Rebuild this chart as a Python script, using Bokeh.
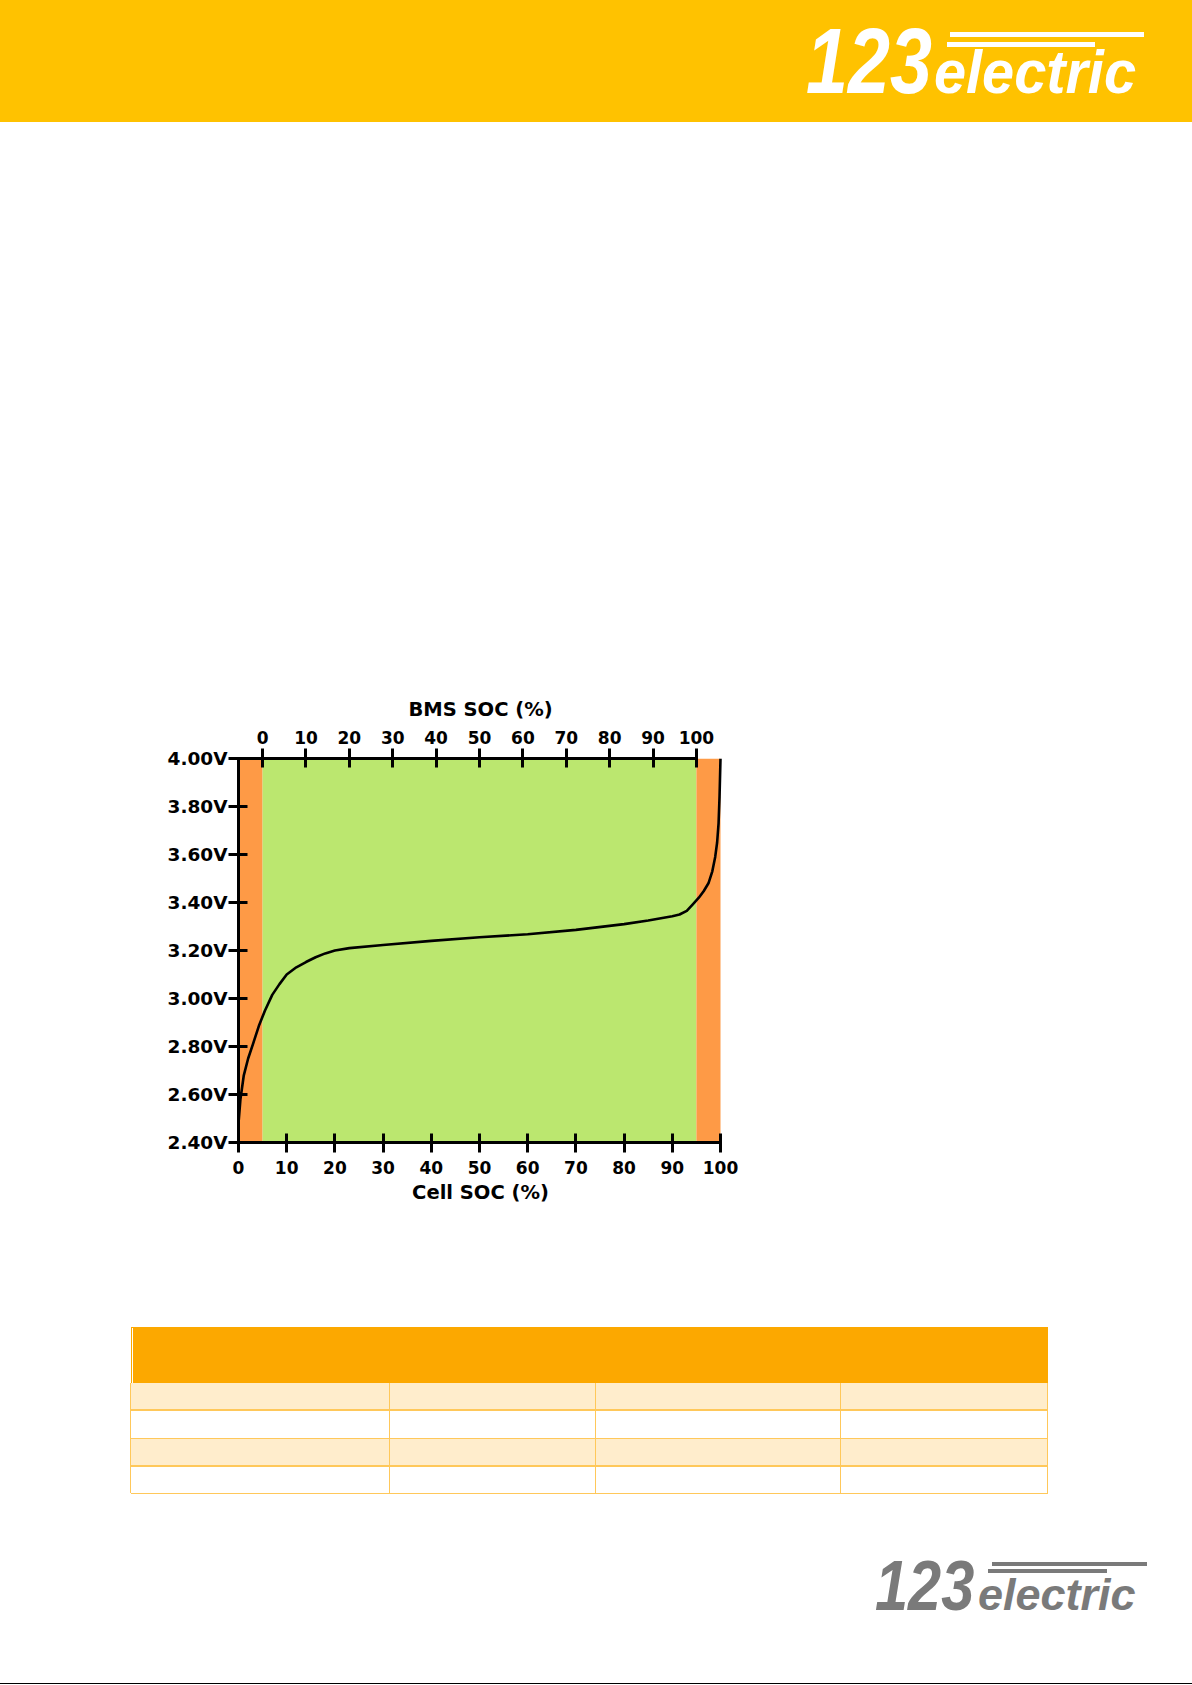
from bokeh.plotting import figure
from bokeh.models import Range1d, LinearAxis, FixedTicker, PrintfTickFormatter, Div
from bokeh.layouts import column
from bokeh.embed import file_html
from bokeh.resources import INLINE

# ---------------- data ----------------
cell_soc = [0, 0.4, 1.1, 2.0, 3.0, 4.3, 5.5, 7.0, 8.5, 10, 12, 14, 16, 18, 20, 23,
            30, 40, 50, 60, 70, 80, 85, 90, 91.5, 93, 94.3, 95.5, 96.5, 97.5,
            98.3, 98.9, 99.3, 99.6, 99.8, 100]
voltage = [2.48, 2.58, 2.68, 2.75, 2.81, 2.89, 2.95, 3.015, 3.06, 3.10, 3.13, 3.152,
           3.172, 3.188, 3.200, 3.210, 3.223, 3.240, 3.255, 3.268, 3.286, 3.310,
           3.325, 3.343, 3.350, 3.365, 3.393, 3.420, 3.447, 3.480, 3.530, 3.590,
           3.650, 3.730, 3.840, 4.000]

zone_start = [0, 5, 95]
zone_end = [5, 95, 100]
zone_color = ["#FE9A46", "#BBE76F", "#FE9A46"]

bms_low_cell = 5      # BMS 0 % equals cell 5 %
bms_high_cell = 95    # BMS 100 % equals cell 95 %

cell_ticks = [0, 10, 20, 30, 40, 50, 60, 70, 80, 90, 100]
bms_ticks = [0, 10, 20, 30, 40, 50, 60, 70, 80, 90, 100]
volt_ticks = [2.4, 2.6, 2.8, 3.0, 3.2, 3.4, 3.6, 3.8, 4.0]

V_MIN, V_MAX = 2.4, 4.0
FONT = "DejaVu Sans"

# ---------------- header (HTML) ----------------
LOGO_FONT = "'Liberation Sans', Arial, sans-serif"


def logo_html(color, bars, t123, tel):
    h = ""
    for (l, t, w, hh) in bars:
        h += (f'<div style="position:absolute;left:{l}px;top:{t}px;width:{w}px;'
              f'height:{hh}px;background:{color};"></div>')
    for (txt, l, t, fs, sx) in (t123, tel):
        h += (f'<div style="position:absolute;left:{l}px;top:{t}px;font-family:{LOGO_FONT};'
              f'font-weight:bold;font-style:italic;font-size:{fs}px;line-height:1;'
              f'color:{color};white-space:nowrap;transform:scaleX({sx});'
              f'transform-origin:left top;">{txt}</div>')
    return h


hdr_html = ('<div style="position:relative;width:1192px;height:122px;background:#FFC200;'
            'overflow:hidden;">'
            + logo_html("#FFFFFF",
                        [(950, 31.7, 194, 5.6), (947, 42.3, 148, 4.4)],
                        ("123", 806, 15.1, 92, 0.82),
                        ("electric", 934, 40.5, 62, 0.93))
            + '</div>')
hdr = Div(text=hdr_html, width=1192, height=122, margin=0)

# ---------------- chart ----------------
FW, FH = 484, 384
x_end = 100 * FW / 482.0
k = (bms_high_cell - bms_low_cell) / 100.0
p = figure(frame_width=FW, frame_height=FH,
           min_border_left=238, min_border_right=1192 - 238 - FW,
           min_border_top=636, min_border_bottom=158,
           x_range=Range1d(0, x_end), y_range=Range1d(V_MIN, V_MAX),
           toolbar_location=None, output_backend="svg",
           background_fill_color="white", border_fill_color="white",
           outline_line_color=None, margin=0)
p.grid.visible = False
p.extra_x_ranges = {"bms": Range1d((0 - bms_low_cell) / k, (x_end - bms_low_cell) / k)}

p.quad(left=zone_start, right=zone_end, bottom=V_MIN, top=V_MAX,
       fill_color=zone_color, line_color=None)
p.line(cell_soc, voltage, line_color="black", line_width=2.6, line_join="round")


def style_axis(ax, size):
    ax.axis_line_width = 3
    ax.axis_line_color = "black"
    ax.major_tick_line_width = 3
    ax.major_tick_line_color = "black"
    ax.major_tick_in = 9
    ax.major_tick_out = 10
    ax.minor_tick_line_color = None
    ax.major_label_text_font = FONT
    ax.major_label_text_font_size = size
    ax.major_label_text_font_style = "bold"
    ax.major_label_text_color = "black"
    ax.axis_label_text_font = FONT
    ax.axis_label_text_font_size = "19.5px"
    ax.axis_label_text_font_style = "bold"
    ax.axis_label_text_color = "black"


xb = p.xaxis[0]
xb.ticker = FixedTicker(ticks=cell_ticks)
xb.bounds = (0, 100)
style_axis(xb, "17px")
xb.major_label_standoff = 8

yl = p.yaxis[0]
yl.ticker = FixedTicker(ticks=volt_ticks)
yl.formatter = PrintfTickFormatter(format="%.2fV")
yl.bounds = (V_MIN, V_MAX)
style_axis(yl, "18.5px")
yl.major_label_standoff = 1

xt = LinearAxis(x_range_name="bms", ticker=FixedTicker(ticks=bms_ticks),
                bounds=((0 - bms_low_cell) / k, 100), axis_label="BMS SOC (%)")
style_axis(xt, "17px")
xt.major_label_standoff = 5
xt.axis_label_standoff = 7
p.add_layout(xt, "above")

# title of the cell axis (its own label-only axis, shifted as in the original)
xlab = LinearAxis(ticker=FixedTicker(ticks=[]), bounds=(9.5, 100), axis_label="Cell SOC (%)")
style_axis(xlab, "17px")
xlab.axis_line_color = None
xlab.major_tick_line_color = None
xlab.major_tick_in = 0
xlab.major_tick_out = 0
xlab.axis_label_standoff = 4
p.add_layout(xlab, "below")

# ---------------- table (HTML) ----------------
col_edges = [130.7, 389.3, 595.4, 840.5, 1047.5]
row_edges = [82.7, 110, 138.3, 166, 193.3]
BORDER = "#FFC85A"
t = ('<div style="position:relative;width:1192px;height:220px;background:#fff;overflow:hidden;">'
     '<div style="position:absolute;left:130.7px;top:27px;width:917px;height:55.7px;background:#FCA800;"></div>'
     '<div style="position:absolute;left:131.6px;top:27.5px;width:1px;height:55px;background:#fff;"></div>')
for i in range(4):
    bg = "#FFEDCC" if i % 2 == 0 else "#FFFFFF"
    t += (f'<div style="position:absolute;left:{col_edges[0]}px;top:{row_edges[i]}px;'
          f'width:{col_edges[-1] - col_edges[0]}px;height:{row_edges[i + 1] - row_edges[i]}px;'
          f'background:{bg};"></div>')
for y in row_edges[1:]:
    t += (f'<div style="position:absolute;left:{col_edges[0]}px;top:{y - 0.8}px;'
          f'width:{col_edges[-1] - col_edges[0] + 1}px;height:1.6px;background:{BORDER};"></div>')
for x in col_edges:
    t += (f'<div style="position:absolute;left:{x - 0.7}px;top:{row_edges[0]}px;'
          f'width:1.4px;height:{row_edges[-1] - row_edges[0]}px;background:{BORDER};"></div>')
t += '</div>'
tbl = Div(text=t, width=1192, height=220, margin=0)

# ---------------- footer (HTML) ----------------
ftr_html = ('<div style="position:relative;width:1192px;height:165px;background:#fff;overflow:hidden;">'
            + logo_html("#7A7A7A",
                        [(992, 41.7, 155, 4.3), (988, 49.3, 119, 4.0)],
                        ("123", 875, 30.7, 70, 0.85),
                        ("electric", 978, 52.0, 45, 1.0))
            + '<div style="position:absolute;left:0;top:162.8px;width:1192px;height:1.6px;background:#000;"></div>'
            + '</div>')
ftr = Div(text=ftr_html, width=1192, height=165, margin=0)

layout = column(hdr, p, tbl, ftr, spacing=0)

open("out.html", "w").write(file_html(layout, INLINE))
